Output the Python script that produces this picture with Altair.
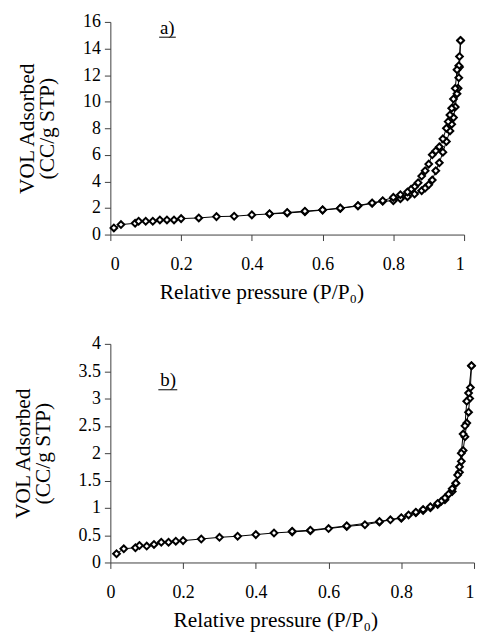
import altair as alt
import pandas as pd

# ---------- Panel a) data ----------
a_ads_x = [0.01, 0.03, 0.07, 0.08, 0.10, 0.12, 0.14, 0.16, 0.18, 0.20, 0.25, 0.30, 0.35,
           0.40, 0.45, 0.50, 0.55, 0.60, 0.65, 0.70, 0.74, 0.77, 0.80, 0.82, 0.84, 0.86,
           0.88, 0.89, 0.90, 0.91, 0.92, 0.93, 0.94, 0.95, 0.96, 0.965, 0.97, 0.975, 0.98,
           0.983, 0.985, 0.987, 0.99]
a_ads_y = [0.5, 0.75, 0.85, 1.0, 1.0, 1.0, 1.1, 1.1, 1.1, 1.2, 1.25, 1.35, 1.38,
           1.48, 1.55, 1.62, 1.72, 1.84, 1.97, 2.15, 2.35, 2.5, 2.55, 2.7, 2.85, 3.05,
           3.3, 3.5, 3.75, 4.1, 4.8, 5.4, 6.2, 7.0, 7.8, 8.3, 8.8, 9.6, 10.6,
           11.0, 11.8, 12.6, 14.6]
a_des_x = [0.99, 0.987, 0.985, 0.98, 0.975, 0.97, 0.965, 0.96, 0.955, 0.95, 0.94, 0.93,
           0.92, 0.91, 0.90, 0.89, 0.88, 0.87, 0.86, 0.85, 0.84, 0.82, 0.80, 0.77, 0.74,
           0.70, 0.65, 0.60, 0.55, 0.50, 0.45]
a_des_y = [14.6, 13.4, 12.7, 12.4, 11.0, 10.2, 9.5, 9.0, 8.5, 8.0, 7.2, 6.6,
           6.3, 6.0, 5.3, 4.8, 4.4, 3.9, 3.6, 3.4, 3.2, 3.0, 2.8, 2.55, 2.38,
           2.18, 1.99, 1.86, 1.76, 1.66, 1.57]

# ---------- Panel b) data ----------
b_ads_x = [0.017, 0.037, 0.069, 0.08, 0.10, 0.12, 0.14, 0.16, 0.18, 0.20, 0.25, 0.30,
           0.35, 0.40, 0.45, 0.50, 0.55, 0.60, 0.65, 0.70, 0.74, 0.77, 0.80, 0.82, 0.84,
           0.86, 0.88, 0.90, 0.92, 0.94, 0.95, 0.96, 0.965, 0.97, 0.975, 0.98, 0.985,
           0.988, 0.99, 0.993]
b_ads_y = [0.16, 0.25, 0.27, 0.31, 0.30, 0.33, 0.37, 0.37, 0.39, 0.40, 0.43, 0.46,
           0.48, 0.51, 0.54, 0.56, 0.58, 0.62, 0.66, 0.69, 0.74, 0.78, 0.81, 0.87, 0.91,
           0.95, 1.00, 1.06, 1.15, 1.30, 1.45, 1.65, 1.85, 2.05, 2.30, 2.55, 2.75,
           3.0, 3.2, 3.6]
b_des_x = [0.993, 0.985, 0.98, 0.975, 0.97, 0.965, 0.96, 0.955, 0.95, 0.94, 0.93, 0.92,
           0.91, 0.90, 0.88, 0.86, 0.84, 0.80, 0.74, 0.65, 0.55, 0.50]
b_des_y = [3.6, 3.1, 2.95, 2.5, 2.35, 2.0, 1.75, 1.6, 1.45, 1.35, 1.25, 1.18,
           1.12, 1.08, 1.02, 0.97, 0.92, 0.82, 0.75, 0.67, 0.59, 0.57]

x_ticks = [0, 0.2, 0.4, 0.6, 0.8, 1]
a_y_ticks = [0, 2, 4, 6, 8, 10, 12, 14, 16]
b_y_ticks = [0, 0.5, 1, 1.5, 2, 2.5, 3, 3.5, 4]

a_label = {"text": ["a)"], "p": [0.161], "v": [15.1], "p2": [0.185], "uv": [14.85], "up": [0.138]}
b_label = {"text": ["b)"], "p": [0.159], "v": [3.22], "p2": [0.184], "uv": [3.16], "up": [0.132]}

FONT = "Liberation Serif"
x_title = "Relative pressure (P/P\u2080)"
y_title = ["VOL Adsorbed", "(CC/g STP)"]


def frame(ax, ay, dx, dy):
    rows = []
    for i, (x, y) in enumerate(zip(ax, ay)):
        rows.append({"p": x, "v": y, "branch": "ads", "idx": i})
    for i, (x, y) in enumerate(zip(dx, dy)):
        rows.append({"p": x, "v": y, "branch": "des", "idx": i})
    return pd.DataFrame(rows)


def panel(df, ymax, yticks, label, width, height, title_x, flush_last):
    xkw = dict(values=x_ticks, format="~g", title=x_title,
               titleX=title_x, titleAlign="center", labelOverlap=False)
    if flush_last:
        xkw["labelAlign"] = {"expr": "datum.value == 1 ? 'right' : 'center'"}
    xaxis = alt.Axis(**xkw)
    yaxis = alt.Axis(values=yticks, format="~g", title=y_title, labelOverlap=False)
    xs = alt.Scale(domain=[0, 1], nice=False)
    ys = alt.Scale(domain=[0, ymax], nice=False)

    def X(f):
        return alt.X(f, scale=xs, axis=xaxis)

    def Y(f):
        return alt.Y(f, scale=ys, axis=yaxis)

    base = alt.Chart(df)
    line = base.mark_line(color="black", strokeWidth=1).encode(
        x=X("p:Q"), y=Y("v:Q"), detail="branch:N", order="idx:Q")
    pts = base.mark_point(shape="diamond", filled=True, fill="white", stroke="black",
                          strokeWidth=2, size=46, opacity=1).encode(
        x=X("p:Q"), y=Y("v:Q"))
    ldf = pd.DataFrame(label)
    txt = alt.Chart(ldf).mark_text(font=FONT, fontSize=19, color="black",
                                   baseline="alphabetic", align="center").encode(
        x=X("p:Q"), y=Y("v:Q"), text="text:N")
    ul = alt.Chart(ldf).mark_rule(color="black", strokeWidth=1).encode(
        x=X("up:Q"), x2="p2:Q", y=Y("uv:Q"))
    return alt.layer(line, pts, txt, ul).properties(width=width, height=height)


top = panel(frame(a_ads_x, a_ads_y, a_des_x, a_des_y), 16, a_y_ticks, a_label,
            356, 214, 152, False)
bottom = panel(frame(b_ads_x, b_ads_y, b_des_x, b_des_y), 4, b_y_ticks, b_label,
               366, 220, 166, True)

chart = alt.vconcat(top, bottom, spacing=32).properties(
    padding={"left": 4, "top": 3, "right": 0, "bottom": 5}
).configure_view(strokeWidth=0).configure_axis(
    grid=False,
    domainColor="#404040",
    tickColor="#404040",
    tickSize=6,
    labelFont=FONT,
    labelFontSize=18,
    labelColor="black",
    labelPadding=15,
    titleFont=FONT,
    titleFontSize=21.5,
    titleFontWeight="normal",
    titleColor="black",
    titleLineHeight=20,
).configure_axisX(titlePadding=8).configure_axisY(labelPadding=4, titlePadding=24)

chart.save("out.html", embed_options={"renderer": "svg", "actions": False})
